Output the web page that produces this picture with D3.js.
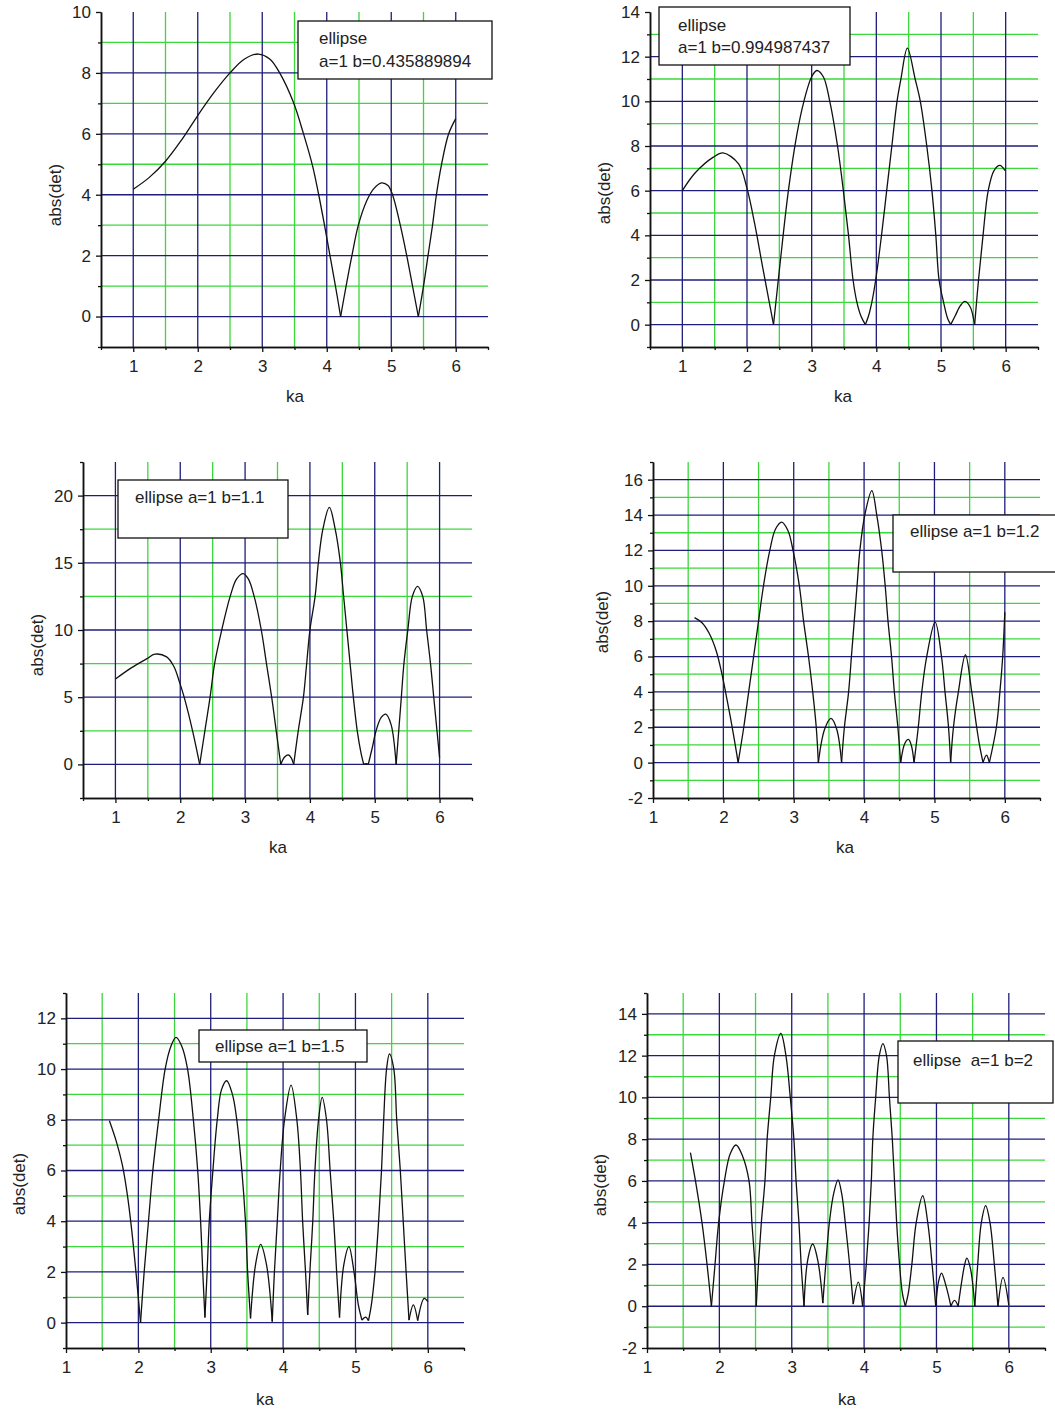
<!DOCTYPE html>
<html>
<head>
<meta charset="utf-8">
<script src="https://cdn.jsdelivr.net/npm/d3@7"></script>
<style>
  body { margin: 0; background: #fff; }
  svg { display: block; }
  text { font-family: "Liberation Sans", Arial, sans-serif; fill: #222; }
</style>
</head>
<body>
<svg id="chart" width="1055" height="1414"></svg>
<script>
// |det| against ka for six ellipses (a = 1, varying b)

// b = 0.435889894
const ka1  = [1.0,1.25,1.5,1.75,2.0,2.25,2.5,2.72,2.94,3.12,3.27,3.48,3.64,3.78,3.88,3.965,4.05,4.135,4.215,4.3,4.39,4.49,4.62,4.73,4.85,4.95,5.02,5.14,5.24,5.33,5.42,5.5,5.57,5.64,5.7,5.78,5.89,6.0];
const det1 = [4.18,4.57,5.1,5.8,6.6,7.35,8.0,8.45,8.62,8.45,8.0,7.05,6.0,4.95,3.95,3.0,2.0,1.0,0,1.0,2.0,3.0,3.8,4.2,4.39,4.3,4.0,3.0,2.0,1.0,0,1.0,2.0,3.0,4.0,5.0,6.0,6.5];

// b = 0.994987437
const ka2  = [1.0,1.2,1.48,1.63,1.87,2.0,2.12,2.25,2.41,2.51,2.64,2.77,2.88,3.0,3.08,3.18,3.28,3.4,3.49,3.57,3.64,3.7,3.76,3.83,3.88,3.93,3.99,4.08,4.16,4.24,4.32,4.38,4.48,4.6,4.68,4.78,4.86,4.92,4.97,5.04,5.1,5.15,5.22,5.3,5.37,5.45,5.52,5.58,5.65,5.73,5.82,5.91,5.99];
const det2 = [6.0,6.8,7.5,7.69,7.2,6.1,4.5,2.45,0,2.7,6.0,8.5,10.0,11.1,11.38,11.1,10.0,8.0,6.0,4.0,2.0,1.0,0.4,0,0.4,1.0,2.0,4.0,6.0,8.0,10.0,11.0,12.38,11.0,10.0,8.0,6.0,4.0,2.0,1.0,0.3,0,0.4,0.85,1.04,0.8,0,2.0,4.0,6.0,6.9,7.13,6.9];

// b = 1.1
const ka3  = [1.0,1.25,1.48,1.61,1.79,1.9,1.99,2.06,2.19,2.3,2.38,2.46,2.53,2.64,2.77,2.87,2.97,3.05,3.14,3.25,3.33,3.41,3.48,3.55,3.61,3.67,3.71,3.75,3.82,3.9,3.95,4.0,4.08,4.13,4.2,4.3,4.39,4.47,4.52,4.57,4.62,4.67,4.73,4.79,4.83,4.87,4.9,4.96,5.02,5.1,5.17,5.25,5.33,5.37,5.41,5.45,5.51,5.58,5.66,5.74,5.8,5.86,5.91,5.96,6.0];
const det3 = [6.35,7.2,7.85,8.2,8.0,7.3,6.1,5.0,2.5,0,2.5,5.0,7.5,10.0,12.5,13.8,14.2,13.8,12.5,10.0,7.5,5.0,2.5,0,0.55,0.7,0.5,0,2.5,5.0,7.5,10.0,12.5,15.0,17.5,19.13,17.5,15.0,12.5,10.0,7.5,5.0,2.5,0.8,0,0.05,0,1.2,2.5,3.5,3.74,3.0,0,2.5,5.0,7.5,10.0,12.5,13.25,12.5,10.0,7.5,5.0,2.5,0.5];

// b = 1.2
const ka4  = [1.59,1.7,1.8,1.9,1.98,2.05,2.13,2.21,2.29,2.36,2.43,2.5,2.57,2.66,2.74,2.83,2.92,2.99,3.08,3.14,3.21,3.27,3.32,3.35,3.44,3.53,3.61,3.68,3.72,3.78,3.82,3.86,3.9,3.94,4.01,4.11,4.18,4.25,4.3,4.34,4.39,4.43,4.48,4.52,4.58,4.63,4.67,4.71,4.77,4.82,4.89,5.01,5.1,5.15,5.2,5.23,5.27,5.34,5.44,5.53,5.6,5.64,5.69,5.74,5.78,5.88,5.93,5.97,6.0];
const det4 = [8.2,7.9,7.3,6.3,5.0,3.6,1.9,0,2.0,4.0,6.0,8.0,10.0,12.0,13.2,13.6,13.1,12.0,10.0,8.0,6.0,4.0,2.0,0,1.9,2.5,1.9,0,2.0,4.0,6.0,8.0,10.0,12.0,14.0,15.38,14.0,12.0,10.0,8.0,6.0,4.0,2.0,0,1.1,1.31,1.0,0,2.0,4.0,6.0,7.94,6.0,4.0,2.0,0,2.0,4.0,6.1,4.0,2.0,1.0,0,0.43,0,2.0,4.0,6.0,8.5];

// b = 1.5
const ka5  = [1.6,1.7,1.78,1.85,1.91,1.97,2.03,2.08,2.14,2.2,2.28,2.37,2.45,2.52,2.6,2.68,2.76,2.82,2.86,2.89,2.92,2.95,2.98,3.03,3.09,3.15,3.22,3.3,3.36,3.43,3.48,3.51,3.55,3.62,3.69,3.77,3.85,3.88,3.92,3.96,4.02,4.11,4.19,4.24,4.27,4.31,4.34,4.37,4.41,4.44,4.49,4.54,4.6,4.65,4.7,4.74,4.78,4.84,4.91,4.98,5.04,5.09,5.14,5.18,5.22,5.27,5.32,5.36,5.39,5.43,5.47,5.53,5.57,5.62,5.66,5.7,5.74,5.8,5.86,5.95,6.0];
const det5 = [7.96,7.1,6.2,5.0,3.6,1.9,0,2.0,4.0,6.0,8.0,10.0,10.9,11.25,10.9,10.0,8.0,6.0,4.0,2.0,0.2,2.0,4.0,6.0,8.0,9.2,9.54,9.0,8.0,6.0,4.0,2.0,0.17,2.3,3.09,2.3,0.04,2.0,4.0,6.0,8.0,9.37,8.0,6.0,4.0,2.0,0.3,2.0,4.0,6.0,8.0,8.88,8.0,6.0,4.0,2.0,0.2,2.3,3.0,2.0,0.7,0.1,0.22,0.08,0.7,2.0,4.0,6.0,8.0,10.0,10.6,10.0,8.0,6.0,4.0,2.0,0.1,0.7,0.08,0.96,0.83];

// b = 2
const ka6  = [1.6,1.67,1.76,1.83,1.89,1.94,1.99,2.07,2.15,2.23,2.32,2.41,2.45,2.49,2.51,2.54,2.58,2.63,2.66,2.71,2.76,2.85,2.92,2.98,3.03,3.06,3.1,3.13,3.17,3.22,3.29,3.36,3.43,3.47,3.52,3.58,3.64,3.69,3.74,3.8,3.85,3.92,3.98,4.03,4.07,4.1,4.12,4.16,4.21,4.26,4.31,4.35,4.39,4.42,4.45,4.49,4.53,4.57,4.61,4.66,4.72,4.81,4.88,4.94,4.99,5.03,5.07,5.13,5.2,5.25,5.3,5.35,5.39,5.42,5.47,5.53,5.57,5.62,5.68,5.74,5.8,5.85,5.92,6.0];
const det6 = [7.36,6.0,4.0,2.0,0,2.0,4.0,6.0,7.3,7.72,7.2,6.0,4.0,2.0,0,2.0,4.0,6.0,8.0,10.0,12.0,13.06,12.0,10.0,8.0,6.0,4.0,2.0,0,2.2,2.98,2.2,0.15,2.0,4.0,5.4,6.05,5.4,4.0,2.0,0.1,1.15,0,2.0,4.0,6.0,8.0,10.0,12.0,12.58,12.0,10.0,8.0,6.0,4.0,2.0,0.6,0,0.6,2.0,4.0,5.29,4.0,2.0,0,1.2,1.59,1.0,0,0.28,0,1.2,2.0,2.3,1.8,0,2.0,4.0,4.82,4.0,2.0,0,1.38,0.05];

// legend texts
const legend1 = ["ellipse", "a=1 b=0.435889894"];
const legend2 = ["ellipse", "a=1 b=0.994987437"];
const legend3 = ["ellipse a=1 b=1.1"];
const legend4 = ["ellipse a=1 b=1.2"];
const legend5 = ["ellipse a=1 b=1.5"];
const legend6 = ["ellipse\u00a0\u00a0a=1 b=2"];

// x tick labels shared by all panels
const kaTicks = [1, 2, 3, 4, 5, 6];

const NAVY = "#1e1e7a";
const GREEN = "#3ad83a";

const panels = [
  { ka: ka1, det: det1, legend: legend1, xDom: [0.5, 6.5], yDom: [-1, 10],   yStep: 2,
    box: [101, 488, 12, 347],   leg: [298, 21, 194, 58, 319, [44, 67]],
    kaPos: [295, 402],  detPos: [61, 195] },
  { ka: ka2, det: det2, legend: legend2, xDom: [0.5, 6.5], yDom: [-1, 14],   yStep: 2,
    box: [650, 1038, 12, 347],  leg: [659, 7, 191, 58, 678, [31, 53]],
    kaPos: [843, 402],  detPos: [610, 193] },
  { ka: ka3, det: det3, legend: legend3, xDom: [0.5, 6.5], yDom: [-2.5, 22.5], yStep: 5,
    box: [83, 472, 462, 798],   leg: [118, 480, 170, 58, 135, [503]],
    kaPos: [278, 853],  detPos: [43, 645] },
  { ka: ka4, det: det4, legend: legend4, xDom: [1, 6.5],   yDom: [-2, 17],   yStep: 2,
    box: [653, 1040, 462, 798], leg: [893, 515, 180, 57, 910, [537]],
    kaPos: [845, 853],  detPos: [608, 622] },
  { ka: ka5, det: det5, legend: legend5, xDom: [1, 6.5],   yDom: [-1, 13],   yStep: 2,
    box: [66, 464, 993, 1348],  leg: [199, 1030, 168, 32, 215, [1052]],
    kaPos: [265, 1405], detPos: [25, 1184] },
  { ka: ka6, det: det6, legend: legend6, xDom: [1, 6.5],   yDom: [-2, 15],   yStep: 2,
    box: [647, 1045, 993, 1348], leg: [898, 1041, 155, 62, 913, [1066]],
    kaPos: [847, 1405], detPos: [606, 1185] }
];

const svg = d3.select("#chart");
const eps = 1e-9;

// split a curve at its local minima so each lobe is smoothed on its own
// and the zeros of |det| stay as sharp cusps
function lobes(pts) {
  const out = [];
  let cur = [pts[0]];
  for (let i = 1; i < pts.length; i++) {
    cur.push(pts[i]);
    if (i < pts.length - 1 && pts[i][1] <= pts[i - 1][1] && pts[i][1] <= pts[i + 1][1]) {
      out.push(cur);
      cur = [pts[i]];
    }
  }
  out.push(cur);
  return out;
}

panels.forEach(p => {
  const [L, R, T, B] = p.box;
  const x = d3.scaleLinear().domain(p.xDom).range([L, R]);
  const y = d3.scaleLinear().domain(p.yDom).range([B, T]);
  const g = svg.append("g");

  const [x0, x1] = p.xDom, [y0, y1] = p.yDom, s = p.yStep;
  const xMajor = d3.range(Math.ceil(x0), x1 + eps, 1);
  const xMinor = d3.range(Math.ceil(x0 - 0.5) + 0.5, x1 + eps, 1);
  const yMajor = d3.range(Math.ceil(y0 / s) * s, y1 + eps, s);
  const yMinor = d3.range(Math.ceil((y0 - s / 2) / s) * s + s / 2, y1 + eps, s);
  const inside = (v, a, b) => v > a + eps && v < b - eps;

  // grid: green at the half steps, navy at the labelled steps
  const grid = g.append("g").attr("fill", "none").attr("stroke-width", 1.3);
  const hLines = (vals, col) => grid.selectAll(null).data(vals.filter(v => inside(v, y0, y1))).join("line")
    .attr("x1", L).attr("x2", R).attr("y1", d => y(d)).attr("y2", d => y(d)).attr("stroke", col);
  const vLines = (vals, col) => grid.selectAll(null).data(vals.filter(v => inside(v, x0, x1))).join("line")
    .attr("y1", T).attr("y2", B).attr("x1", d => x(d)).attr("x2", d => x(d)).attr("stroke", col);
  hLines(yMinor, GREEN);
  vLines(xMinor, GREEN);
  hLines(yMajor, NAVY);
  vLines(xMajor, NAVY);

  // axes
  const fmt = d => String(d);
  const yAxis = g.append("g").attr("transform", `translate(${L},0)`)
    .call(d3.axisLeft(y).tickValues(yMajor).tickSize(5).tickSizeOuter(0).tickPadding(5).tickFormat(fmt));
  g.append("g").attr("transform", `translate(${L},0)`)
    .call(d3.axisLeft(y).tickValues(yMinor.filter(v => v >= y0 - eps && v <= y1 + eps)).tickSize(3).tickSizeOuter(0).tickFormat(""));
  const xAxis = g.append("g").attr("transform", `translate(0,${B})`)
    .call(d3.axisBottom(x).tickValues(kaTicks.filter(v => v >= x0 - eps)).tickSize(5).tickSizeOuter(0).tickPadding(8).tickFormat(fmt));
  g.append("g").attr("transform", `translate(0,${B})`)
    .call(d3.axisBottom(x).tickValues(xMinor).tickSize(3).tickSizeOuter(0).tickFormat(""));
  g.selectAll(".domain").attr("stroke", "#111").attr("stroke-width", 1.5);
  g.selectAll(".tick line").attr("stroke", "#111").attr("stroke-width", 1.3);
  [yAxis, xAxis].forEach(a => a.selectAll("text")
    .attr("font-size", 17).attr("font-family", "Liberation Sans, Arial, sans-serif").attr("fill", "#333"));

  // curve
  const pts = p.ka.map((k, i) => [k, p.det[i]]);
  const line = d3.line().x(d => x(d[0])).y(d => y(d[1])).curve(d3.curveCatmullRom.alpha(0.5));
  g.append("g").selectAll("path").data(lobes(pts)).join("path")
    .attr("d", line).attr("fill", "none").attr("stroke", "#111").attr("stroke-width", 1.3);

  // legend box
  const [lx, ly, lw, lh, tx, tys] = p.leg;
  g.append("rect").attr("x", lx).attr("y", ly).attr("width", lw).attr("height", lh)
    .attr("fill", "#fff").attr("stroke", "#111").attr("stroke-width", 1.3);
  g.selectAll(null).data(p.legend).join("text")
    .attr("x", tx).attr("y", (d, i) => tys[i]).attr("font-size", 17).text(d => d);

  // axis titles
  g.append("text").attr("x", p.kaPos[0]).attr("y", p.kaPos[1]).attr("text-anchor", "middle")
    .attr("font-size", 17).text("ka");
  g.append("text").attr("transform", `translate(${p.detPos[0]},${p.detPos[1]}) rotate(-90)`)
    .attr("text-anchor", "middle").attr("font-size", 17).text("abs(det)");
});
</script>
</body>
</html>
